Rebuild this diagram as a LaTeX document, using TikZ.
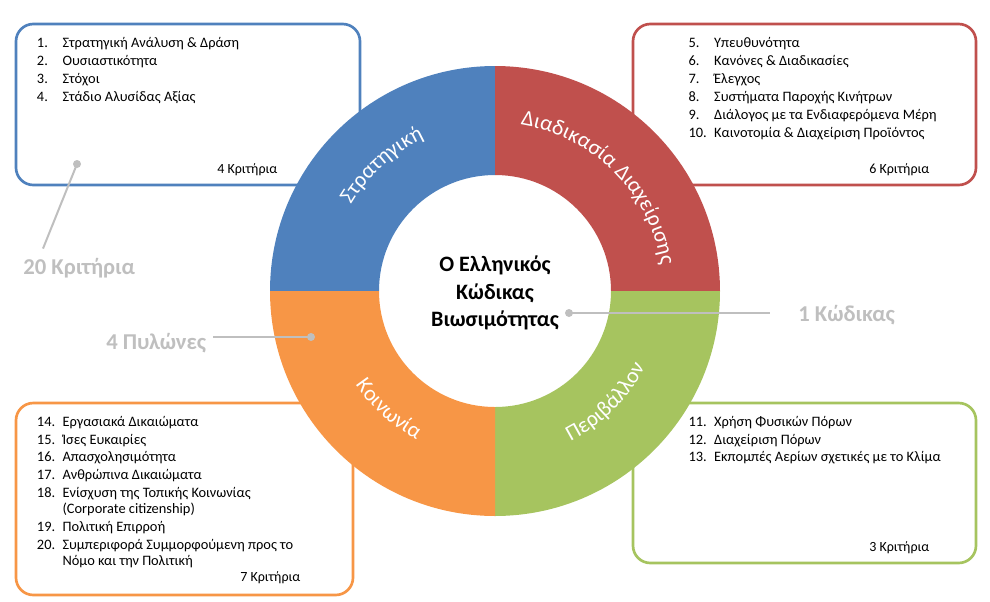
\documentclass[tikz,border=0pt]{standalone}
\usepackage{fontspec}
\setmainfont{Carlito}
\usepackage{xcolor,tikz}
\usetikzlibrary{positioning,calc,decorations.text}
\definecolor{ringBlue}{HTML}{4F81BD}
\definecolor{ringRed}{HTML}{C0504D}
\definecolor{ringGreen}{HTML}{A6C45F}
\definecolor{ringOrange}{HTML}{F79646}
\definecolor{guideGrey}{HTML}{BFBFBF}
\newcommand{\critnum}[1]{\makebox[19.2pt][l]{#1}}
\newcommand{\ringfont}{\fontsize{16.5}{19}\selectfont}

\begin{document}
\begin{tikzpicture}[x=0.75pt, y=0.75pt,
  critbox/.style={draw=#1, line width=2pt, rounded corners=13pt, fill=white, inner sep=0pt},
  item/.style={anchor=base west, inner sep=0pt, font=\fontsize{10.8}{13.5}\selectfont},
  tally/.style={anchor=base west, inner sep=0pt, font=\fontsize{10.5}{13}\selectfont},
  guide/.style={draw=guideGrey, line width=1.5pt},
  guidelabel/.style={anchor=base west, inner sep=0pt, text=guideGrey, font=\fontsize{17}{20}\selectfont\bfseries},
  ringtext/.style={decorate, decoration={text along path, text align=center, text color=white, text={|\ringfont|#1}}}]

\useasboundingbox (0,0) rectangle (990,-601);
\coordinate (ctr) at (495,-291);

%% boxes behind the ring
\node[critbox=ringBlue, minimum width=258pt, minimum height=120.75pt] (boxStrat) at (188,-104.5) {};
\node[critbox=ringRed, minimum width=257.25pt, minimum height=120.75pt] (boxProc) at (804.5,-104.5) {};
\node[critbox=ringOrange, minimum width=252.75pt, minimum height=144pt] (boxSoc) at (184.5,-499) {};
\node[critbox=ringGreen, minimum width=257.25pt, minimum height=120pt] (boxEnv) at (804.5,-483) {};

%% criteria lists
\foreach [count=\i] \txt in {Στρατηγική Ανάλυση \& Δράση, Ουσιαστικότητα, Στόχοι, Στάδιο Αλυσίδας Αξίας}
  \node[item] (strat\i) at (36.7, {-47.7-18*(\i-1)}) {\critnum{\i.}\txt};
\foreach [count=\i from 5] \txt in {Υπευθυνότητα, Κανόνες \& Διαδικασίες, Έλεγχος, Συστήματα Παροχής Κινήτρων,
    Διάλογος με τα Ενδιαφερόμενα Μέρη, Καινοτομία \& Διαχείριση Προϊόντος}
  \node[item] (proc\i) at (688.3, {-47.7-18*(\i-5)}) {\critnum{\i.}\txt};
\foreach [count=\i from 11] \txt in {Χρήση Φυσικών Πόρων, Διαχείριση Πόρων, Εκπομπές Αερίων σχετικές με το Κλίμα}
  \node[item] (env\i) at (688.3, {-426.7-17.6*(\i-11)}) {\critnum{\i.}\txt};
\foreach [count=\i] \n/\y/\txt in {14./426.7/Εργασιακά Δικαιώματα, 15./444.3/Ίσες Ευκαιρίες,
    16./461.9/Απασχολησιμότητα, 17./479.5/Ανθρώπινα Δικαιώματα,
    18./497.1/Ενίσχυση της Τοπικής Κοινωνίας, {}/513.3/(Corporate citizenship),
    19./531.5/Πολιτική Επιρροή, 20./549.1/Συμπεριφορά Συμμορφούμενη προς το,
    {}/565.3/Νόμο και την Πολιτική}
  \node[item] (soc\i) at (36.7,-\y) {\critnum{\n}\txt};

\node[tally] (stratTally) at (217,-173) {4 Κριτήρια};
\node[tally] (procTally) at (869,-173) {6 Κριτήρια};
\node[tally] (envTally) at (869,-551.7) {3 Κριτήρια};
\node[tally] (socTally) at (240,-581.7) {7 Κριτήρια};

%% the ring
\foreach \a/\col in {90/ringBlue, 0/ringRed, 270/ringGreen, 180/ringOrange}
  \fill[\col] ($(ctr)+(\a:225)$) arc[start angle=\a, delta angle=90, radius=225]
    -- ($(ctr)+({\a+90}:116)$) arc[start angle={\a+90}, delta angle=-90, radius=116] -- cycle;

\path[ringtext=Στρατηγική] ($(ctr)+(172:168)$) arc[start angle=172, end angle=92, radius=168];
\path[ringtext=Διαδικασία Διαχείρισης] ($(ctr)+(90:168)$) arc[start angle=90, end angle=0, radius=168];
\path[ringtext=Κοινωνία] ($(ctr)+(188:168)$) arc[start angle=188, end angle=268, radius=168];
\path[ringtext=Περιβάλλον] ($(ctr)+(275:168)$) arc[start angle=275, end angle=355, radius=168];

\node[align=center, inner sep=0pt, font=\fontsize{16.5}{20.5}\selectfont\bfseries] (title) at (495,-293)
  {Ο Ελληνικός\\Κώδικας\\Βιωσιμότητας};

%% totals
\coordinate (dotCrit) at (77,-164);
\coordinate (dotPyl) at (311,-337);
\coordinate (dotCode) at (569,-313);
\node[guidelabel] (critTotal) at (23,-274) {20 Κριτήρια};
\node[guidelabel] (pylTotal) at (106,-349) {4 Πυλώνες};
\node[guidelabel] (codeTotal) at (798,-321) {1 Κώδικας};
\draw[guide] (dotCrit) -- ($(critTotal.north west)+(20,9)$);
\draw[guide] (dotPyl) -- ($(pylTotal.east |- dotPyl)+(7,0)$);
\draw[guide] (dotCode) -- ($(codeTotal.west |- dotCode)+(-28,0)$);
\foreach \d in {dotCrit, dotPyl, dotCode}
  \fill[guideGrey] (\d) circle[radius=4];

\end{tikzpicture}
\end{document}
